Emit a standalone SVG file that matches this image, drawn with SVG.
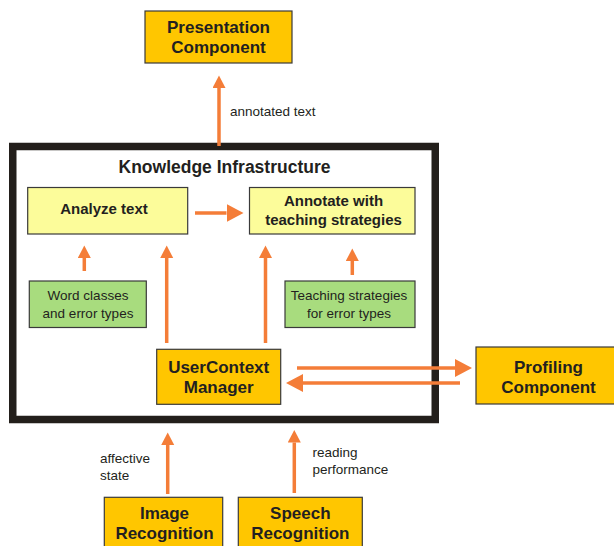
<svg xmlns="http://www.w3.org/2000/svg" width="614" height="546" viewBox="0 0 614 546">
<defs>
<style>
.t{font-family:"Liberation Sans",Arial,sans-serif;fill:#231f20}
.b{font-weight:bold;text-anchor:middle}
.n{font-size:13.5px}
.gold{fill:#ffc600;stroke:#3a3a3a;stroke-width:1.2}
.yel{fill:#fcfc9a;stroke:#3a3a3a;stroke-width:1.2}
.grn{fill:#a8dc7e;stroke:#3a3a3a;stroke-width:1.2}
.c{stroke:#f47d38;stroke-width:3.5;fill:none}
</style>
<marker id="av" markerUnits="userSpaceOnUse" markerWidth="13" markerHeight="14" refX="0" refY="6.5" orient="auto">
<path d="M0,0 L12.5,6.5 L0,13 z" fill="#f47d38"/>
</marker>
<marker id="ah" markerUnits="userSpaceOnUse" markerWidth="18" markerHeight="19" refX="0" refY="9" orient="auto">
<path d="M0,0 L17,9 L0,18 z" fill="#f47d38"/>
</marker>
</defs>
<rect width="614" height="546" fill="#fff"/>

<g id="frame">
<rect x="12.75" y="146.5" width="422.5" height="273" fill="#fff" stroke="#231f1b" stroke-width="7.5"/>
<text class="t b" x="224.5" y="172.5" font-size="17.5">Knowledge Infrastructure</text>
</g>

<g id="connectors">
<line class="c" x1="219" y1="146" x2="219" y2="88" marker-end="url(#av)"/>
<line class="c" x1="84.3" y1="271" x2="84.3" y2="258" marker-end="url(#av)"/>
<line class="c" x1="166.7" y1="343" x2="166.7" y2="258" marker-end="url(#av)"/>
<line class="c" x1="265.5" y1="343" x2="265.5" y2="258" marker-end="url(#av)"/>
<line class="c" x1="352.3" y1="275" x2="352.3" y2="261" marker-end="url(#av)"/>
<line class="c" x1="167.7" y1="494" x2="167.7" y2="445" marker-end="url(#av)"/>
<line class="c" x1="294.3" y1="493" x2="294.3" y2="442.5" marker-end="url(#av)"/>
<line class="c" x1="195" y1="213" x2="226.5" y2="213" marker-end="url(#ah)"/>
<line class="c" x1="297" y1="368" x2="455" y2="368" marker-end="url(#ah)"/>
<line class="c" x1="460" y1="383" x2="303" y2="383" marker-end="url(#ah)"/>
<text class="t n" x="230" y="115.5">annotated text</text>
<text class="t n" x="100" y="462.5">affective</text>
<text class="t n" x="100" y="480">state</text>
<text class="t n" x="312.5" y="456.5">reading</text>
<text class="t n" x="312.5" y="473.5">performance</text>
</g>

<g id="presentation">
<rect class="gold" x="145" y="11" width="147" height="52"/>
<text class="t b" x="218.5" y="33" font-size="17">Presentation</text>
<text class="t b" x="218.5" y="53" font-size="17">Component</text>
</g>

<g id="analyze">
<rect class="yel" x="27.7" y="187.5" width="160" height="46.5"/>
<text class="t b" x="104" y="213.5" font-size="15">Analyze text</text>
</g>

<g id="annotate">
<rect class="yel" x="249.5" y="187.5" width="165.5" height="46.5"/>
<text class="t b" x="333.5" y="206" font-size="15">Annotate with</text>
<text class="t b" x="333.5" y="225" font-size="15">teaching strategies</text>
</g>

<g id="wordclasses">
<rect class="grn" x="29.3" y="281" width="117" height="46.5"/>
<text class="t n" x="88" y="299.5" text-anchor="middle">Word classes</text>
<text class="t n" x="88" y="317.5" text-anchor="middle">and error types</text>
</g>

<g id="teachingstrategies">
<rect class="grn" x="285" y="281" width="130" height="46.5"/>
<text class="t n" x="349" y="299.5" text-anchor="middle">Teaching strategies</text>
<text class="t n" x="349" y="317.5" text-anchor="middle">for error types</text>
</g>

<g id="usercontext">
<rect class="gold" x="156.7" y="349.3" width="124" height="55"/>
<text class="t b" x="218.7" y="372.5" font-size="17">UserContext</text>
<text class="t b" x="218.7" y="392.5" font-size="17">Manager</text>
</g>

<g id="profiling">
<rect class="gold" x="476" y="347" width="150" height="57"/>
<text class="t b" x="548.5" y="372.5" font-size="17">Profiling</text>
<text class="t b" x="548.5" y="392.5" font-size="17">Component</text>
</g>

<g id="image">
<rect class="gold" x="104.3" y="497.3" width="118.4" height="60"/>
<text class="t b" x="164.5" y="518.5" font-size="17">Image</text>
<text class="t b" x="164.5" y="538.5" font-size="17">Recognition</text>
</g>

<g id="speech">
<rect class="gold" x="238.3" y="497.3" width="124" height="60"/>
<text class="t b" x="300.3" y="518.5" font-size="17">Speech</text>
<text class="t b" x="300.3" y="538.5" font-size="17">Recognition</text>
</g>
</svg>
